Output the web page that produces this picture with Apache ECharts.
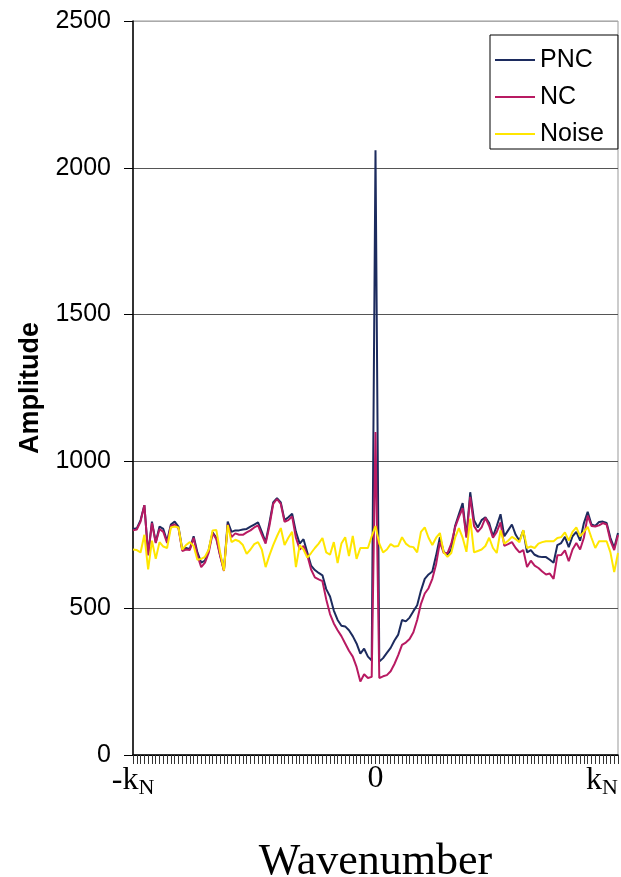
<!DOCTYPE html>
<html>
<head>
<meta charset="utf-8">
<script src="https://cdn.jsdelivr.net/npm/echarts@6/dist/echarts.min.js"></script>
<style>
html,body{margin:0;padding:0;background:#fff;}
#chart{width:621px;height:877px;}
</style>
</head>
<body>
<div id="chart"></div>
<script>
// wavenumber index (category axis), -kN .. 0 .. kN
const categories = [
-64,-63,-62,-61,-60,-59,-58,-57,-56,-55,-54,-53,-52,-51,-50,-49,-48,-47,-46,-45,
-44,-43,-42,-41,-40,-39,-38,-37,-36,-35,-34,-33,-32,-31,-30,-29,-28,-27,-26,-25,
-24,-23,-22,-21,-20,-19,-18,-17,-16,-15,-14,-13,-12,-11,-10,-9,-8,-7,-6,-5,
-4,-3,-2,-1,0,1,2,3,4,5,6,7,8,9,10,11,12,13,14,15,
16,17,18,19,20,21,22,23,24,25,26,27,28,29,30,31,32,33,34,35,
36,37,38,39,40,41,42,43,44,45,46,47,48,49,50,51,52,53,54,55,
56,57,58,59,60,61,62,63,64
];

// x tick labels shown (category -> label)
const xTickCats = [-64, 0, 64];
const xTickLabels = ['{k|-k}{n|N}', '{z|0}', '{k|k}{n|N}'];

const yTicks = [0, 500, 1000, 1500, 2000, 2500];

const seriesNames = ['PNC', 'NC', 'Noise'];

const pnc = [
770,772,800,851,685,795,725,778,770,728,
785,795,778,700,705,702,745,690,655,662,
700,758,740,680,630,795,760,765,765,768,
770,778,785,792,760,725,790,860,875,860,
800,810,822,760,720,735,690,645,630,620,
612,565,540,492,460,440,438,425,405,380,
345,362,335,322,2060,318,330,348,365,390,
410,460,455,468,490,510,560,600,615,625,
680,742,692,682,700,780,820,858,745,895,
800,775,800,810,790,745,780,820,745,765,
785,750,730,765,690,698,682,676,674,674,
665,655,715,722,743,708,745,760,730,790,
828,785,780,794,795,790,740,705,756
];

const nc = [
765,768,795,851,680,790,722,770,760,722,
780,785,772,695,700,698,740,680,640,655,
690,755,735,678,627,785,742,755,750,750,
758,765,775,782,750,720,780,855,872,855,
794,800,812,740,700,712,680,632,605,598,
592,530,480,448,425,405,380,355,335,300,
250,275,262,266,1100,262,268,272,285,310,
340,375,383,395,418,460,515,550,568,600,
650,725,688,688,720,775,810,841,740,879,
780,760,775,808,780,740,760,792,712,718,
725,705,690,698,640,662,645,637,625,615,
618,600,680,681,697,660,700,722,700,740,
815,780,778,782,790,785,730,698,749
];

const noise = [
700,698,690,750,632,730,668,725,710,705,
775,778,775,700,715,725,712,665,668,675,
700,765,766,690,628,783,725,733,728,715,
685,700,718,725,700,640,680,715,745,773,
715,740,760,640,715,700,672,688,705,720,
739,690,682,725,654,720,742,678,746,668,
705,705,705,745,780,720,690,700,718,710,
712,742,720,710,708,690,760,775,740,715,
740,756,690,675,688,740,773,740,692,805,
690,695,700,712,740,705,688,765,720,730,
743,735,725,766,705,710,705,720,725,728,
728,728,739,742,758,730,760,775,745,760,
777,740,705,728,728,728,690,623,688
];

const colors = ['#1c2b5e', '#b81a62', '#ffe600'];

const chart = echarts.init(document.getElementById('chart'), null, {renderer: 'canvas'});

const serifFont = '"Liberation Serif", "Times New Roman", serif';
const sansFont = '"Liberation Sans", Arial, sans-serif';

chart.setOption({
  animation: false,
  backgroundColor: '#fff',
  color: colors,
  grid: {
    left: 133, right: 3, top: 21, bottom: 122,
    containLabel: false,
    outerBoundsMode: 'none',
    show: true, borderColor: '#999', borderWidth: 1
  },
  legend: {
    orient: 'vertical',
    left: 490, top: 35,
    data: seriesNames,
    icon: 'rect',
    backgroundColor: '#fff',
    borderColor: '#000', borderWidth: 1,
    padding: [11, 14, 1, 5],
    itemGap: 9,
    itemWidth: 40, itemHeight: 2,
    textStyle: {fontFamily: sansFont, fontSize: 25, color: '#000', lineHeight: 28}
  },
  xAxis: {
    type: 'category',
    data: categories,
    boundaryGap: false,
    name: 'Wavenumber',
    nameLocation: 'middle',
    nameGap: 85,
    nameTextStyle: {fontFamily: serifFont, fontSize: 44, color: '#000', verticalAlign: 'top'},
    axisLine: {onZero: false, lineStyle: {color: '#000', width: 1.5}},
    axisTick: {show: true, interval: 0, length: 9, lineStyle: {color: '#333', width: 1}},
    axisLabel: {
      interval: 0,
      margin: 8,
      alignMaxLabel: 'right',
      showMinLabel: true, showMaxLabel: true,
      formatter: function (v) {
        const i = xTickCats.indexOf(Number(v));
        return i >= 0 ? xTickLabels[i] : '';
      },
      rich: {
        k: {fontFamily: serifFont, fontSize: 32, color: '#000'},
        n: {fontFamily: serifFont, fontSize: 22, color: '#000', padding: [14, 0, 0, 0]},
        z: {fontFamily: serifFont, fontSize: 32, color: '#000'}
      }
    },
    splitLine: {show: false}
  },
  yAxis: {
    type: 'value',
    min: yTicks[0], max: yTicks[yTicks.length - 1], interval: 500,
    name: 'Amplitude',
    nameLocation: 'middle',
    nameGap: 89,
    nameTextStyle: {fontFamily: sansFont, fontSize: 27, fontWeight: 'bold', color: '#000'},
    axisLine: {show: true, lineStyle: {color: '#000', width: 1.5}},
    axisTick: {show: true, length: 9, lineStyle: {color: '#000'}},
    axisLabel: {
      fontFamily: sansFont, fontSize: 25, color: '#000', margin: 22,
      formatter: function (v) { return String(v); }
    },
    splitLine: {show: true, lineStyle: {color: ['#000', '#555', '#555', '#555', '#555', '#aaa'], width: 1}}
  },
  series: [
    {name: seriesNames[0], type: 'line', data: pnc, symbol: 'none', lineStyle: {width: 2, color: colors[0]}, z: 2},
    {name: seriesNames[1], type: 'line', data: nc, symbol: 'none', lineStyle: {width: 2, color: colors[1]}, z: 3},
    {name: seriesNames[2], type: 'line', data: noise, symbol: 'none', lineStyle: {width: 2, color: colors[2]}, z: 4}
  ]
});
</script>
</body>
</html>
